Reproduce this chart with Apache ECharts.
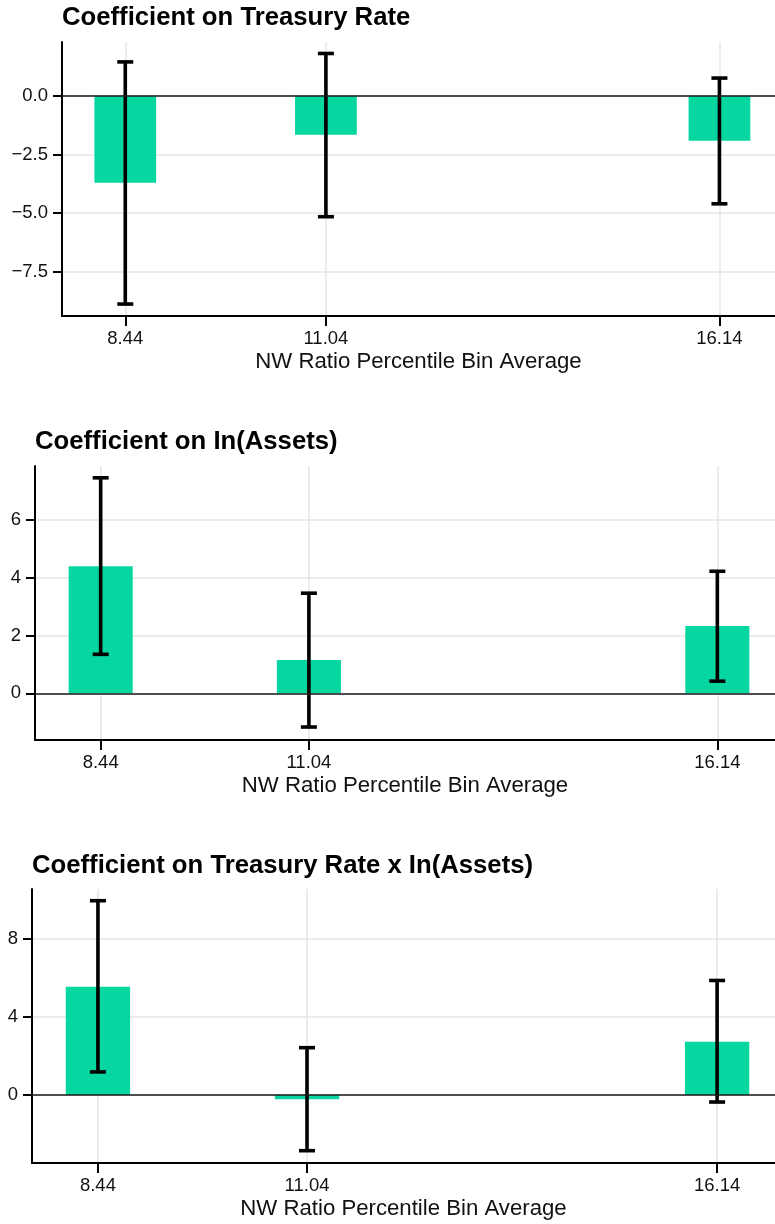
<!DOCTYPE html>
<html>
<head>
<meta charset="utf-8">
<script src="https://cdn.jsdelivr.net/npm/echarts@6/dist/echarts.min.js"></script>
<style>
  html, body { margin: 0; padding: 0; background: #fff; }
  #chart { width: 775px; height: 1224px; }
</style>
</head>
<body>
<div id="chart"></div>
<script>
// bin averages (x positions)
const binAverages = [8.44, 11.04, 16.14]

// panel 1: treasury rate
const rateCoef = [-3.71, -1.66, -1.92]
const rateLow = [-8.89, -5.16, -4.61]
const rateHigh = [1.45, 1.81, 0.76]

// panel 2: ln(assets)
const assetsCoef = [4.40, 1.15, 2.33]
const assetsLow = [1.35, -1.17, 0.42]
const assetsHigh = [7.47, 3.47, 4.23]

// panel 3: interaction
const interCoef = [5.54, -0.22, 2.73]
const interLow = [1.18, -2.85, -0.36]
const interHigh = [9.94, 2.42, 5.86]

const titles = [
  'Coefficient on Treasury Rate',
  'Coefficient on In(Assets)',
  'Coefficient on Treasury Rate x In(Assets)'
]
const yTicks = [
  [-7.5, -5, -2.5, 0],
  [0, 2, 4, 6],
  [0, 4, 8]
]
const yRanges = [[-9.40, 2.30], [-1.62, 7.88], [-3.48, 10.54]]
const xRange = [7.62, 16.86]

const panels = [
  { coef: rateCoef, low: rateLow, high: rateHigh, decimals: 1 },
  { coef: assetsCoef, low: assetsLow, high: assetsHigh, decimals: 0 },
  { coef: interCoef, low: interLow, high: interHigh, decimals: 0 }
]

// layout (px)
const gridBoxes = [
  { left: 62, top: 42, height: 274 },
  { left: 35, top: 466, height: 274 },
  { left: 32, top: 889, height: 274 }
]
const titleTops = [5, 429, 853]

const BAR_COLOR = '#06D6A0'
const BAR_HALF = 0.4   // half bar width, in x units
const CAP_HALF = 8     // half cap width, px
const FONT = 'Liberation Sans, Arial, sans-serif'

const fmtTick = (v, d) => {
  const s = Math.abs(v).toFixed(d)
  return v < 0 ? '\u2212' + s : s
}

const chart = echarts.init(document.getElementById('chart'))

const grid = []
const xAxis = []
const yAxis = []
const title = []
const series = []

panels.forEach((p, i) => {
  grid.push({
    left: gridBoxes[i].left,
    top: gridBoxes[i].top,
    right: 0,
    height: gridBoxes[i].height,
    containLabel: false,
    outerBoundsMode: 'none'
  })

  title.push({
    text: titles[i],
    left: gridBoxes[i].left,
    top: titleTops[i],
    padding: 0,
    textStyle: { fontFamily: FONT, fontSize: 25.7, fontWeight: 'bold', color: '#000' }
  })

  xAxis.push({
    type: 'value',
    gridIndex: i,
    min: xRange[0],
    max: xRange[1],
    name: 'NW Ratio Percentile Bin Average',
    nameLocation: 'middle',
    nameGap: 35,
    nameTextStyle: { fontFamily: FONT, fontSize: 22.2, color: '#111' },
    axisLine: { onZero: false, lineStyle: { color: '#000', width: 2 } },
    axisTick: { customValues: binAverages, length: 10, lineStyle: { color: '#000', width: 2 } },
    axisLabel: {
      customValues: binAverages,
      margin: 13,
      fontFamily: FONT,
      fontSize: 18.5,
      color: '#111',
      formatter: v => v.toFixed(2)
    },
    splitLine: { show: true, lineStyle: { color: '#e6e6e6', width: 1.5 } }
  })

  yAxis.push({
    type: 'value',
    gridIndex: i,
    min: yRanges[i][0],
    max: yRanges[i][1],
    axisLine: { show: true, onZero: false, lineStyle: { color: '#000', width: 2 } },
    axisTick: { show: true, customValues: yTicks[i], length: 9, lineStyle: { color: '#000', width: 2 } },
    axisLabel: {
      customValues: yTicks[i],
      margin: 14,
      fontFamily: FONT,
      fontSize: 18.5,
      color: '#111',
      formatter: v => fmtTick(v, p.decimals)
    },
    splitLine: { show: true, lineStyle: { color: '#e6e6e6', width: 1.5 } }
  })

  // bars
  series.push({
    type: 'custom',
    xAxisIndex: i,
    yAxisIndex: i,
    z: 2,
    data: binAverages.map((x, j) => [x, p.coef[j]]),
    renderItem: (params, api) => {
      const x = api.value(0)
      const y = api.value(1)
      const a = api.coord([x - BAR_HALF, 0])
      const b = api.coord([x + BAR_HALF, y])
      return {
        type: 'rect',
        shape: {
          x: a[0],
          y: Math.min(a[1], b[1]),
          width: b[0] - a[0],
          height: Math.abs(b[1] - a[1])
        },
        style: { fill: BAR_COLOR }
      }
    },
    markLine: {
      silent: true,
      symbol: 'none',
      label: { show: false },
      lineStyle: { color: '#1a1a1a', width: 1.6, type: 'solid' },
      data: [{ yAxis: 0 }]
    }
  })

  // error bars
  series.push({
    type: 'custom',
    xAxisIndex: i,
    yAxisIndex: i,
    z: 4,
    data: binAverages.map((x, j) => [x, p.low[j], p.high[j]]),
    renderItem: (params, api) => {
      const x = api.value(0)
      const lo = api.coord([x, api.value(1)])
      const hi = api.coord([x, api.value(2)])
      const style = { stroke: '#000', lineWidth: 3.6 }
      return {
        type: 'group',
        children: [
          { type: 'line', shape: { x1: lo[0], y1: lo[1], x2: hi[0], y2: hi[1] }, style },
          { type: 'line', shape: { x1: lo[0] - CAP_HALF, y1: lo[1], x2: lo[0] + CAP_HALF, y2: lo[1] }, style },
          { type: 'line', shape: { x1: hi[0] - CAP_HALF, y1: hi[1], x2: hi[0] + CAP_HALF, y2: hi[1] }, style }
        ]
      }
    }
  })
})

chart.setOption({
  animation: false,
  backgroundColor: '#fff',
  textStyle: { fontFamily: FONT },
  title,
  grid,
  xAxis,
  yAxis,
  series
})

window.addEventListener('resize', () => {
  chart.resize()
})
</script>
</body>
</html>
